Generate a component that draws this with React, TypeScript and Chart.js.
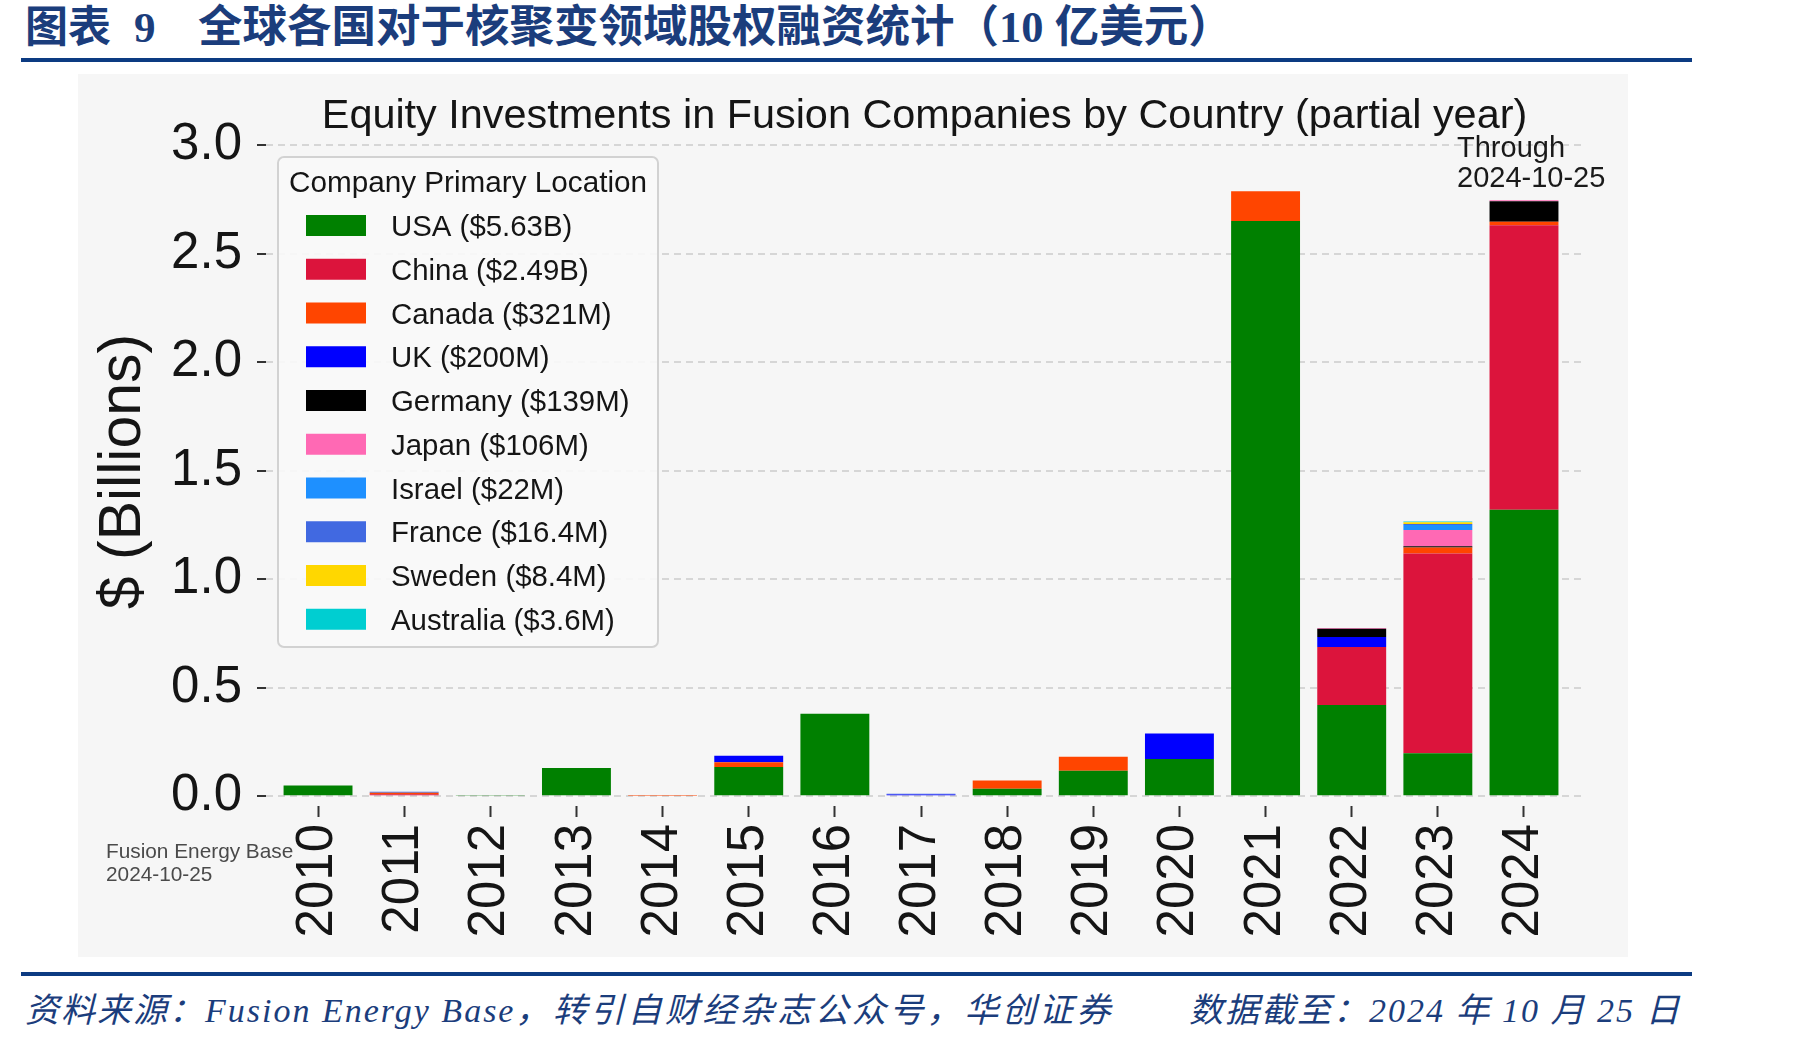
import React, { useEffect, useRef } from 'react';
import { Chart, registerables } from 'chart.js';

Chart.register(...registerables);

// Funding rounds by year, $ billions, stacked by company primary location
const years = ['2010', '2011', '2012', '2013', '2014', '2015', '2016', '2017', '2018', '2019', '2020', '2021', '2022', '2023', '2024'];
const usa = [0.049, null, 0.003, 0.13, null, 0.135, 0.38, null, 0.034, 0.117, 0.171, 2.65, 0.42, 0.198, 1.32];
const china = [null, 0.009, null, null, null, null, null, null, null, null, null, null, 0.267, 0.92, 1.31];
const canada = [null, 0.007, null, null, 0.002, 0.022, null, null, 0.038, 0.065, null, 0.137, null, 0.028, 0.016];
const uk = [null, null, null, null, null, 0.03, null, 0.008, null, null, 0.118, null, 0.046, null, null];
const germany = [null, null, null, null, null, null, null, null, null, null, null, null, 0.038, 0.006, 0.095];
const japan = [null, null, null, null, null, null, null, null, null, null, null, null, 0.004, 0.075, 0.005];
const israel = [null, null, null, null, null, null, null, null, null, null, null, null, null, 0.022, null];
const france = [null, 0.005, null, null, null, null, null, 0.004, null, null, null, null, null, 0.005, null];
const sweden = [null, null, null, null, null, null, null, null, null, null, null, null, null, 0.008, null];
const australia = [null, null, null, null, null, null, null, null, null, null, null, null, null, 0.0036, null];

const countries = ['USA', 'China', 'Canada', 'UK', 'Germany', 'Japan', 'Israel', 'France', 'Sweden', 'Australia'];
const legendLabels = ['USA ($5.63B)', 'China ($2.49B)', 'Canada ($321M)', 'UK ($200M)', 'Germany ($139M)', 'Japan ($106M)', 'Israel ($22M)', 'France ($16.4M)', 'Sweden ($8.4M)', 'Australia ($3.6M)'];
const colors = ['#008000', '#DC143C', '#FF4500', '#0000FF', '#000000', '#FF69B4', '#1E90FF', '#4169E1', '#FFD700', '#00CED1'];
const yTicks = [0, 0.5, 1.0, 1.5, 2.0, 2.5, 3.0];

const series = [usa, china, canada, uk, germany, japan, israel, france, sweden, australia];

const chartTitle = 'Equity Investments in Fusion Companies by Country (partial year)';
const legendTitle = 'Company Primary Location';
const yTitle = '$ (Billions)';
const noteLines = ['Through', '2024-10-25'];
const sourceLines = ['Fusion Energy Base', '2024-10-25'];

const SANS = '"Liberation Sans", Arial, "DejaVu Sans", sans-serif';
const SERIF_CJK = '"Liberation Serif", "Noto Sans CJK SC", serif';
const BLUE = '#1b3d7c';
const TEXT = '#151515';

const overlay = {
  id: 'overlay',
  afterDraw(chart: any) {
    const { ctx, chartArea } = chart;
    const midX = (chartArea.left + chartArea.right) / 2;
    ctx.save();

    // Chart title
    ctx.fillStyle = TEXT;
    ctx.font = `41.4px ${SANS}`;
    ctx.textAlign = 'center';
    ctx.textBaseline = 'alphabetic';
    ctx.fillText(chartTitle, midX, 54);

    // Y axis title
    ctx.save();
    ctx.translate(46, (chartArea.top + chartArea.bottom) / 2 - 4);
    ctx.rotate(-Math.PI / 2);
    ctx.font = `59px ${SANS}`;
    ctx.textAlign = 'center';
    ctx.textBaseline = 'middle';
    ctx.fillText(yTitle, 0, 0);
    ctx.restore();

    // Partial-year note above the last bar
    ctx.font = `29px ${SANS}`;
    ctx.textAlign = 'left';
    ctx.textBaseline = 'alphabetic';
    ctx.fillStyle = '#1a1a1a';
    noteLines.forEach((t, i) => ctx.fillText(t, 1379, 83 + i * 30));

    // Source note, bottom left
    ctx.font = `20.8px ${SANS}`;
    ctx.fillStyle = '#4a4a4a';
    sourceLines.forEach((t, i) => ctx.fillText(t, 28, 784 + i * 23));

    // Legend
    const bx = 200, by = 83, bw = 380, bh = 490;
    ctx.beginPath();
    ctx.roundRect(bx, by, bw, bh, 6);
    ctx.fillStyle = 'rgba(250,250,250,0.9)';
    ctx.fill();
    ctx.lineWidth = 2;
    ctx.strokeStyle = '#d2d2d2';
    ctx.stroke();

    ctx.fillStyle = TEXT;
    ctx.font = `29.7px ${SANS}`;
    ctx.textAlign = 'center';
    ctx.fillText(legendTitle, bx + bw / 2, 118);

    ctx.textAlign = 'left';
    ctx.font = `29.4px ${SANS}`;
    chart.data.datasets.forEach((ds: any, i: number) => {
      const base = 161 + i * 43.75;
      ctx.fillStyle = ds.backgroundColor;
      ctx.fillRect(228, base - 20, 60, 21);
      ctx.fillStyle = TEXT;
      ctx.fillText(legendLabels[i], 313, base + 1);
    });

    ctx.restore();
  },
};

export default function App() {
  const canvasRef = useRef<HTMLCanvasElement>(null);

  useEffect(() => {
    const datasets = series.map((vals, k) => ({
      label: countries[k],
      data: vals
        .map((v, i) => ({ x: i, y: v }))
        .filter((p) => p.y !== null),
      backgroundColor: colors[k],
      borderWidth: 0,
      barPercentage: 0.8,
      categoryPercentage: 1.0,
      stack: 'all',
    }));

    const chart = new Chart(canvasRef.current as HTMLCanvasElement, {
      type: 'bar',
      data: { datasets: datasets as any },
      options: {
        responsive: false,
        animation: false,
        devicePixelRatio: 1,
        events: [],
        layout: { padding: { top: 71, right: 45, bottom: 0, left: 0 } },
        plugins: {
          legend: { display: false },
          tooltip: { enabled: false },
          title: { display: false },
        },
        scales: {
          x: {
            type: 'linear',
            stacked: true,
            offset: false,
            min: -0.604,
            max: 14.685,
            afterBuildTicks: (scale: any) => {
              scale.ticks = years.map((_, i) => ({ value: i }));
            },
            afterFit: (scale: any) => {
              scale.height = 151;
            },
            grid: {
              display: true,
              offset: false,
              drawOnChartArea: false,
              drawTicks: true,
              tickLength: 11,
              tickWidth: 2,
              tickColor: '#333333',
            },
            border: { display: false },
            ticks: {
              autoSkip: false,
              minRotation: 90,
              maxRotation: 90,
              padding: 7,
              color: TEXT,
              font: { family: SANS, size: 51 },
              callback: (value: any) => years[Math.round(Number(value))],
            },
          },
          y: {
            type: 'linear',
            stacked: true,
            min: -0.045,
            max: 3.0,
            afterBuildTicks: (scale: any) => {
              scale.ticks = yTicks.map((v) => ({ value: v }));
            },
            afterFit: (scale: any) => {
              scale.width = 188;
            },
            grid: {
              color: '#d6d6d6',
              lineWidth: 2,
              drawTicks: true,
              tickLength: 9,
              tickWidth: 2,
              tickColor: '#333333',
              tickBorderDash: [],
            },
            border: { display: false, dash: [7, 5] },
            ticks: {
              padding: 15,
              color: TEXT,
              font: { family: SANS, size: 51 },
              callback: (value: any) => Number(value).toFixed(1),
            },
          },
        },
      } as any,
      plugins: [overlay],
    });

    return () => chart.destroy();
  }, []);

  const abs = (extra: React.CSSProperties): React.CSSProperties => ({
    position: 'absolute',
    whiteSpace: 'nowrap',
    ...extra,
  });

  const footerFont: React.CSSProperties = {
    fontFamily: SERIF_CJK,
    fontStyle: 'italic',
    fontSize: 34,
    lineHeight: '34px',
    color: BLUE,
  };

  return (
    <div style={{ position: 'absolute', left: 0, top: 0, width: 1801, height: 1043, background: '#ffffff', overflow: 'hidden' }}>
      <div style={abs({ left: 25, top: 6, fontFamily: SERIF_CJK, fontWeight: 700, fontSize: 43, lineHeight: '43px', color: BLUE })}>图表</div>
      <div style={abs({ left: 134, top: 6, fontFamily: SERIF_CJK, fontWeight: 700, fontSize: 43, lineHeight: '43px', color: BLUE })}>9</div>
      <div style={abs({ left: 198, top: 5, fontFamily: SERIF_CJK, fontWeight: 700, fontSize: 44.5, lineHeight: '44px', color: BLUE })}>
        全球各国对于核聚变领域股权融资统计（10 亿美元）
      </div>
      <div style={abs({ left: 21, top: 58, width: 1671, height: 4, background: '#0c3b82' })} />
      <div style={abs({ left: 78, top: 74, width: 1550, height: 883, background: '#f6f6f6' })}>
        <canvas ref={canvasRef} width={1550} height={883} style={{ display: 'block', width: 1550, height: 883 }} />
      </div>
      <div style={abs({ left: 21, top: 972, width: 1671, height: 4, background: '#0c3b82' })} />
      <div style={abs({ left: 25, top: 994, ...footerFont })}>
        <span style={{ letterSpacing: 2 }}>资料来源：</span>
        <span style={{ letterSpacing: 2 }}>Fusion Energy Base</span>
        <span style={{ letterSpacing: 3.4 }}>，转引自财经杂志公众号，华创证券</span>
      </div>
      <div style={abs({ left: 1189, top: 994, letterSpacing: 2, ...footerFont })}>
        数据截至：2024 年 10 月 25 日
      </div>
    </div>
  );
}
